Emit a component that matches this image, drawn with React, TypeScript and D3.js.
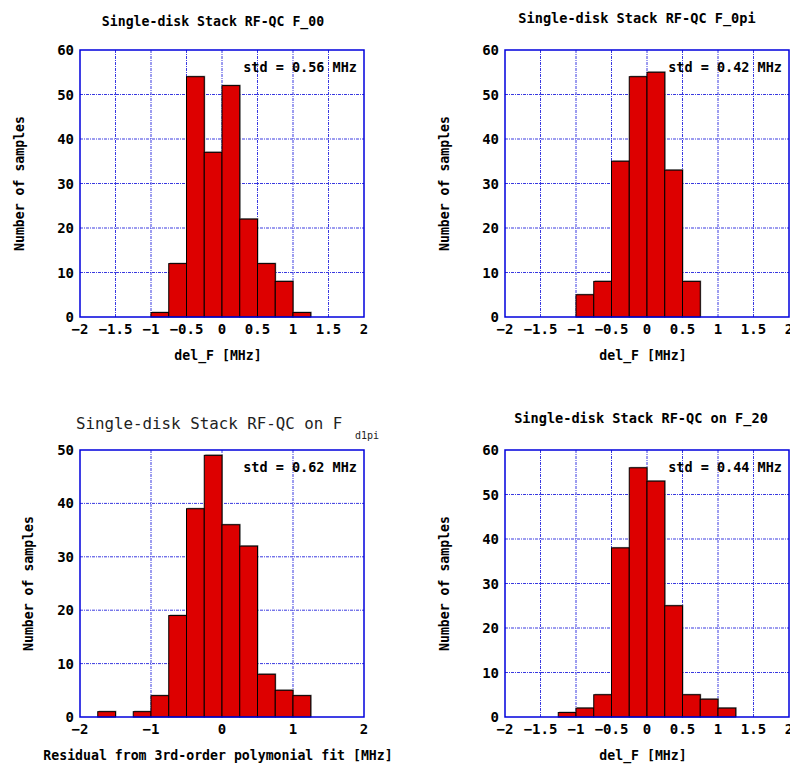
import React from "react";
import * as d3 from "d3";

const BIN_WIDTH = 0.25;

const binsF00 = [-1, -0.75, -0.5, -0.25, 0, 0.25, 0.5, 0.75, 1];
const countsF00 = [1, 12, 54, 37, 52, 22, 12, 8, 1];

const binsF0pi = [-1, -0.75, -0.5, -0.25, 0, 0.25, 0.5];
const countsF0pi = [5, 8, 35, 54, 55, 33, 8];

const binsFd1pi = [-1.75, -1.25, -1, -0.75, -0.5, -0.25, 0, 0.25, 0.5, 0.75, 1];
const countsFd1pi = [1, 1, 4, 19, 39, 49, 36, 32, 8, 5, 4];

const binsF20 = [-1.25, -1, -0.75, -0.5, -0.25, 0, 0.25, 0.5, 0.75, 1];
const countsF20 = [1, 2, 5, 38, 56, 53, 25, 5, 4, 2];

const xTicksFine = [-2, -1.5, -1, -0.5, 0, 0.5, 1, 1.5, 2];
const xTicksCoarse = [-2, -1, 0, 1, 2];
const yTicks60 = [0, 10, 20, 30, 40, 50, 60];
const yTicks50 = [0, 10, 20, 30, 40, 50];

const stdLabels = ["std = 0.56 MHz", "std = 0.42 MHz", "std = 0.62 MHz", "std = 0.44 MHz"];
const xLabels = ["del_F [MHz]", "del_F [MHz]", "Residual from 3rd-order polymonial fit [MHz]", "del_F [MHz]"];
const yLabel = "Number of samples";

const FONT = "'DejaVu Sans Mono', 'Liberation Mono', monospace";
const BLUE = "#0000dd";
const GRID = "#3a3ae0";
const RED = "#dd0000";

type PanelProps = {
  left: number;
  top: number;
  bins: number[];
  counts: number[];
  xTicks: number[];
  yTicks: number[];
  yMax: number;
  std: string;
  xLabel: string;
  yLabelX: number;
  title: React.ReactNode;
};

function Panel({ left, top, bins, counts, xTicks, yTicks, yMax, std, xLabel, yLabelX, title }: PanelProps) {
  const W = 284;
  const H = 267;
  const x = d3.scaleLinear().domain([-2, 2]).range([left, left + W]);
  const y = d3.scaleLinear().domain([0, yMax]).range([top + H, top]);
  const fmt = (v: number) => (v < 0 ? "\u2212" + String(-v) : String(v));
  return (
    <g>
      {title}
      <rect x={left} y={top} width={W} height={H} fill="white" />
      {xTicks.slice(1, -1).map((t) => (
        <line key={"gx" + t} x1={x(t)} x2={x(t)} y1={top} y2={top + H} stroke={GRID} strokeWidth={1} strokeDasharray="3,1,1,1" />
      ))}
      {yTicks.slice(1, -1).map((t) => (
        <line key={"gy" + t} x1={left} x2={left + W} y1={y(t)} y2={y(t)} stroke={GRID} strokeWidth={1} strokeDasharray="3,1,1,1" />
      ))}
      {bins.map((b, i) => (
        <rect key={"s" + i} x={x(b) + 1} y={y(counts[i]) - 1} width={x(b + BIN_WIDTH) - x(b)} height={y(0) - y(counts[i]) + 1} fill="#999" />
      ))}
      {bins.map((b, i) => (
        <rect key={"b" + i} x={x(b)} y={y(counts[i])} width={x(b + BIN_WIDTH) - x(b)} height={y(0) - y(counts[i])} fill={RED} stroke="#000" strokeWidth={1} />
      ))}
      <rect x={left} y={top} width={W} height={H} fill="none" stroke={BLUE} strokeWidth={1.5} />
      {xTicks.map((t) => (
        <text key={"tx" + t} x={x(t)} y={top + H + 17} textAnchor="middle" fontFamily={FONT} fontWeight="bold" fontSize={14}>
          {fmt(t)}
        </text>
      ))}
      {yTicks.map((t) => (
        <text key={"ty" + t} x={left - 6} y={y(t) + 5} textAnchor="end" fontFamily={FONT} fontWeight="bold" fontSize={14}>
          {t}
        </text>
      ))}
      <text x={left + W - 7} y={top + 22} textAnchor="end" fontFamily={FONT} fontWeight="bold" fontSize={13.5}>
        {std}
      </text>
      <text x={left + W / 2 - 4} y={top + H + 43} textAnchor="middle" fontFamily={FONT} fontWeight="bold" fontSize={13.2}>
        {xLabel}
      </text>
      <text transform={`translate(${yLabelX},${top + H / 2}) rotate(-90)`} textAnchor="middle" fontFamily={FONT} fontWeight="bold" fontSize={13.2}>
        {yLabel}
      </text>
    </g>
  );
}

export default function App() {
  return (
    <svg width={790} height={764} style={{ position: "absolute", left: 0, top: 0 }} xmlns="http://www.w3.org/2000/svg">
      <rect width={790} height={764} fill="white" />
      <Panel
        left={80}
        top={50}
        bins={binsF00}
        counts={countsF00}
        xTicks={xTicksFine}
        yTicks={yTicks60}
        yMax={60}
        std={stdLabels[0]}
        xLabel={xLabels[0]}
        yLabelX={24}
        title={
          <text x={213} y={26} textAnchor="middle" fontFamily={FONT} fontWeight="bold" fontSize={13.2}>
            Single-disk Stack RF-QC F_00
          </text>
        }
      />
      <Panel
        left={505}
        top={50}
        bins={binsF0pi}
        counts={countsF0pi}
        xTicks={xTicksFine}
        yTicks={yTicks60}
        yMax={60}
        std={stdLabels[1]}
        xLabel={xLabels[1]}
        yLabelX={449}
        title={
          <text x={637} y={23} textAnchor="middle" fontFamily={FONT} fontWeight="bold" fontSize={13.6}>
            Single-disk Stack RF-QC F_0pi
          </text>
        }
      />
      <Panel
        left={80}
        top={450}
        bins={binsFd1pi}
        counts={countsFd1pi}
        xTicks={xTicksCoarse}
        yTicks={yTicks50}
        yMax={50}
        std={stdLabels[2]}
        xLabel={xLabels[2]}
        yLabelX={33}
        title={
          <g>
            <text x={76} y={429} fontFamily={FONT} fontSize={15.8} fill="#222">
              Single-disk Stack RF-QC on F
            </text>
            <text x={355} y={439} fontFamily={FONT} fontSize={10} fill="#222">
              d1pi
            </text>
          </g>
        }
      />
      <Panel
        left={505}
        top={450}
        bins={binsF20}
        counts={countsF20}
        xTicks={xTicksFine}
        yTicks={yTicks60}
        yMax={60}
        std={stdLabels[3]}
        xLabel={xLabels[3]}
        yLabelX={449}
        title={
          <text x={641} y={423} textAnchor="middle" fontFamily={FONT} fontWeight="bold" fontSize={13.6}>
            Single-disk Stack RF-QC on F_20
          </text>
        }
      />
    </svg>
  );
}
